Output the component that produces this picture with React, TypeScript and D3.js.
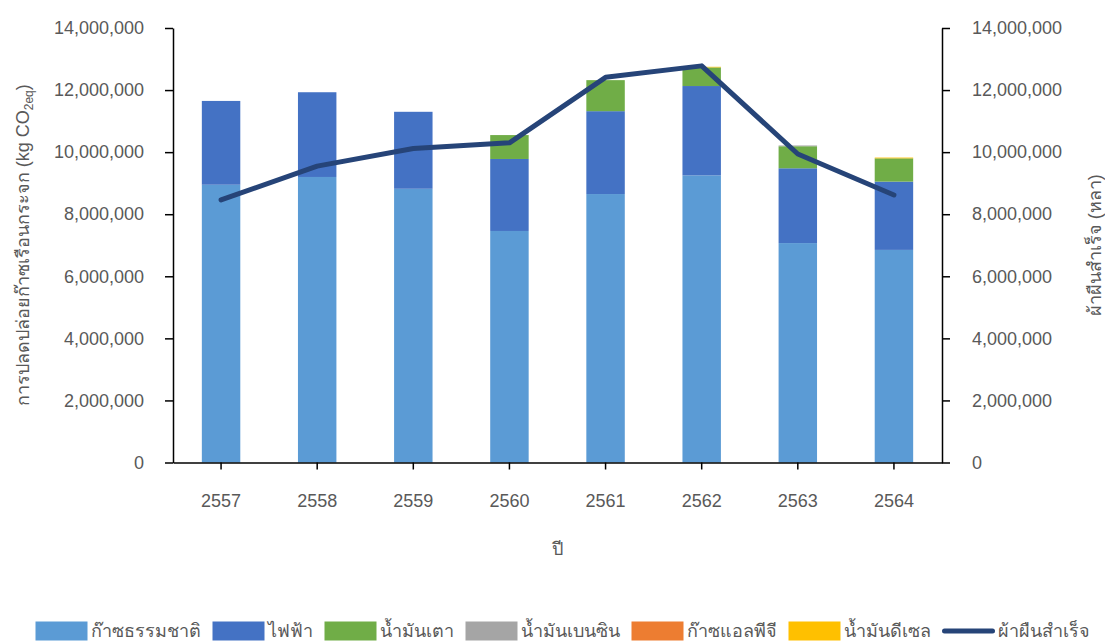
import React, { useEffect, useRef } from 'react';
import * as d3 from 'd3';

const years = ['2557', '2558', '2559', '2560', '2561', '2562', '2563', '2564'];
const naturalGas = [8950000, 9200000, 8820000, 7460000, 8650000, 9250000, 7070000, 6850000];
const electricity = [2700000, 2730000, 2480000, 2320000, 2670000, 2880000, 2410000, 2200000];
const fuelOil = [0, 0, 0, 770000, 1000000, 600000, 710000, 750000];
const benzine = [0, 0, 0, 0, 0, 0, 25000, 0];
const lpg = [0, 0, 0, 0, 0, 0, 0, 0];
const diesel = [0, 0, 0, 0, 0, 20000, 0, 25000];
const fabric = [8460000, 9550000, 10120000, 10300000, 12410000, 12780000, 9940000, 8620000];
const yTicks = [0, 2000000, 4000000, 6000000, 8000000, 10000000, 12000000, 14000000];

const seriesNames = ['ก๊าซธรรมชาติ', 'ไฟฟ้า', 'น้ำมันเตา', 'น้ำมันเบนซิน', 'ก๊าซแอลพีจี', 'น้ำมันดีเซล'];
const seriesColors = ['#5B9BD5', '#4472C4', '#70AD47', '#A5A5A5', '#ED7D31', '#FFC000'];
const lineName = 'ผ้าผืนสำเร็จ';
const lineColor = '#264478';

const W = 1105;
const H = 642;
const FONT = "'Liberation Sans', Arial, sans-serif";
const TEXT = '#595959';

export default function App() {
  const ref = useRef<SVGSVGElement | null>(null);

  useEffect(() => {
    const svg = d3.select(ref.current);
    svg.selectAll('*').remove();

    const left = 173, right = 942, top = 28, bottom = 462.5;
    const x = d3.scaleBand<string>().domain(years).range([left, right]).paddingInner(0.6).paddingOuter(0.3);
    const y = d3.scaleLinear().domain([0, 14000000]).range([bottom, top]);
    const yR = d3.scaleLinear().domain([0, 14000000]).range([bottom, top]);

    const seriesData = [naturalGas, electricity, fuelOil, benzine, lpg, diesel];
    const rows = years.map((yr, i) => {
      const o: any = { year: yr };
      seriesNames.forEach((n, k) => (o[n] = seriesData[k][i]));
      return o;
    });
    const stack = d3.stack<any>().keys(seriesNames)(rows);

    const g = svg.append('g');
    stack.forEach((layer, k) => {
      g.append('g')
        .attr('fill', seriesColors[k])
        .selectAll('rect')
        .data(layer)
        .join('rect')
        .attr('x', (d: any) => x(d.data.year)!)
        .attr('width', x.bandwidth())
        .attr('y', (d: any) => y(d[1]))
        .attr('height', (d: any) => Math.max(0, y(d[0]) - y(d[1])));
    });

    const line = d3
      .line<number>()
      .x((_, i) => x(years[i])! + x.bandwidth() / 2)
      .y((d) => yR(d));
    g.append('path')
      .datum(fabric)
      .attr('d', line)
      .attr('fill', 'none')
      .attr('stroke', lineColor)
      .attr('stroke-width', 5)
      .attr('stroke-linejoin', 'round')
      .attr('stroke-linecap', 'round');

    const styleAxis = (sel: any) => {
      sel.select('.domain').attr('stroke', '#000').attr('stroke-width', 1.5);
      sel.selectAll('.tick line').attr('stroke', '#000').attr('stroke-width', 1.5);
      sel.selectAll('.tick text').attr('fill', TEXT).attr('font-size', 18).attr('font-family', FONT);
    };

    const fmt = d3.format(',');
    svg.append('g')
      .attr('transform', `translate(${left},0)`)
      .call(d3.axisLeft(y).tickValues(yTicks).tickFormat((d: any) => fmt(d)).tickSize(8).tickPadding(21).tickSizeOuter(0))
      .call(styleAxis);
    svg.append('g')
      .attr('transform', `translate(${right},0)`)
      .call(d3.axisRight(yR).tickValues(yTicks).tickFormat((d: any) => fmt(d)).tickSize(8).tickPadding(22).tickSizeOuter(0))
      .call(styleAxis);
    svg.append('g')
      .attr('transform', `translate(0,${bottom})`)
      .call(d3.axisBottom(x).tickSize(7).tickPadding(25).tickSizeOuter(0))
      .call(styleAxis);

    const lt = svg.append('text')
      .attr('transform', `translate(29,${(top + bottom) / 2}) rotate(-90)`)
      .attr('text-anchor', 'middle')
      .attr('fill', TEXT)
      .attr('font-size', 18)
      .attr('font-family', FONT);
    lt.append('tspan').text('การปลดปล่อยก๊าซเรือนกระจก (kg CO');
    lt.append('tspan').attr('font-size', 12).attr('dy', 4).text('2eq');
    lt.append('tspan').attr('dy', -4).text(')');

    svg.append('text')
      .attr('transform', `translate(1101,${(top + bottom) / 2}) rotate(-90)`)
      .attr('text-anchor', 'middle')
      .attr('fill', TEXT)
      .attr('font-size', 18)
      .attr('font-family', FONT)
      .text(lineName + ' (หลา)');

    svg.append('text')
      .attr('x', (left + right) / 2)
      .attr('y', 555)
      .attr('text-anchor', 'middle')
      .attr('fill', TEXT)
      .attr('font-size', 18)
      .attr('font-family', FONT)
      .text('ปี');

    const leg = svg.append('g');
    const items = [...seriesNames.map((n, k) => ({ name: n, color: seriesColors[k], type: 'rect' })), { name: lineName, color: lineColor, type: 'line' }];
    let cx = 0;
    const legY = 631;
    const gap = 12;
    items.forEach((it) => {
      const ig = leg.append('g').attr('transform', `translate(${cx},0)`);
      if (it.type === 'rect') {
        ig.append('rect').attr('x', 0).attr('y', legY - 9.5).attr('width', 52).attr('height', 19).attr('fill', it.color);
      } else {
        ig.append('line').attr('x1', 2).attr('x2', 50).attr('y1', legY).attr('y2', legY)
          .attr('stroke', it.color).attr('stroke-width', 5).attr('stroke-linecap', 'round');
      }
      const t = ig.append('text')
        .attr('x', 55)
        .attr('y', legY)
        .attr('dy', '0.35em')
        .attr('fill', TEXT)
        .attr('font-size', 18)
        .attr('font-family', FONT)
        .text(it.name);
      const tw = (t.node() as SVGTextElement).getComputedTextLength();
      cx += 55 + tw + gap;
    });
    const total = cx - gap;
    leg.attr('transform', `translate(${(35 + 1090) / 2 - total / 2},0)`);
  }, []);

  return (
    <svg
      ref={ref}
      width={W}
      height={H}
      style={{ position: 'absolute', left: 0, top: 0, background: '#fff' }}
    />
  );
}
